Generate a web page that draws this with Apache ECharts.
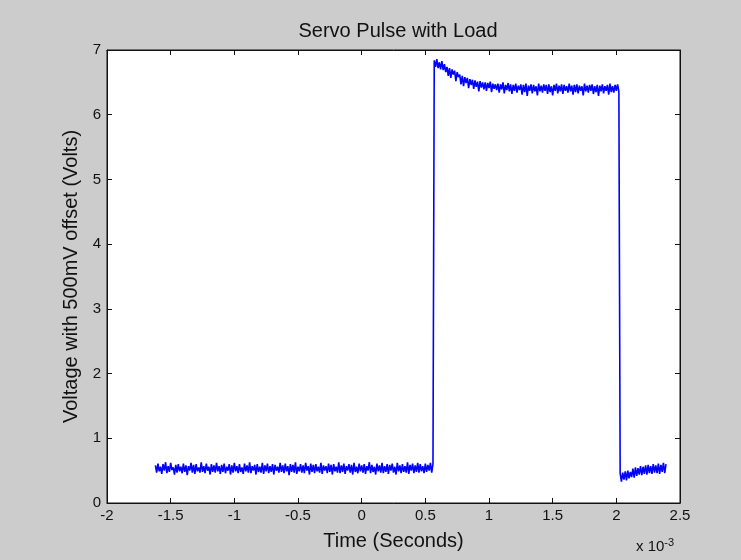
<!DOCTYPE html>
<html>
<head>
<meta charset="utf-8">
<script src="https://cdn.jsdelivr.net/npm/echarts@6/dist/echarts.min.js"></script>
<style>
  html, body { margin: 0; padding: 0; background: #cccccc; }
  #chart { width: 741px; height: 560px; }
</style>
</head>
<body>
<div id="chart"></div>
<script>
// scope samples, time in units of 1e-3 s
const sampleStart = -1.62;
const sampleStep = 0.01;

// low level before the pulse (-1.62 .. 0.56)
const lowBefore = [
  0.58,0.47,0.61,0.49,0.56,0.45,0.60,0.50,0.63,0.46,
  0.57,0.48,0.62,0.51,0.55,0.44,0.59,0.47,0.60,0.49,
  0.56,0.46,0.61,0.48,0.58,0.43,0.57,0.50,0.62,0.47,
  0.59,0.45,0.60,0.49,0.55,0.47,0.63,0.48,0.57,0.46,
  0.61,0.50,0.56,0.44,0.60,0.48,0.58,0.47,0.62,0.49,
  0.57,0.45,0.59,0.48,0.61,0.46,0.56,0.50,0.60,0.44,
  0.58,0.47,0.62,0.49,0.57,0.46,0.60,0.48,0.55,0.45,
  0.61,0.49,0.58,0.47,0.63,0.46,0.57,0.50,0.59,0.44,
  0.60,0.48,0.56,0.47,0.62,0.45,0.58,0.49,0.61,0.46,
  0.57,0.48,0.60,0.44,0.59,0.50,0.56,0.47,0.62,0.48,
  0.58,0.46,0.61,0.49,0.57,0.43,0.60,0.48,0.59,0.47,
  0.63,0.45,0.56,0.49,0.60,0.47,0.58,0.46,0.62,0.50,
  0.57,0.44,0.61,0.48,0.59,0.46,0.60,0.49,0.56,0.47,
  0.62,0.45,0.58,0.50,0.57,0.46,0.61,0.48,0.59,0.44,
  0.60,0.49,0.56,0.47,0.63,0.46,0.58,0.48,0.61,0.45,
  0.57,0.50,0.60,0.47,0.59,0.44,0.62,0.48,0.56,0.46,
  0.61,0.49,0.58,0.47,0.60,0.45,0.57,0.50,0.63,0.46,
  0.59,0.48,0.56,0.44,0.61,0.49,0.58,0.47,0.62,0.46,
  0.57,0.48,0.60,0.45,0.59,0.50,0.61,0.47,0.56,0.44,
  0.62,0.49,0.58,0.46,0.60,0.48,0.57,0.47,0.63,0.45,
  0.59,0.50,0.61,0.46,0.58,0.48,0.62,0.47,0.60,0.49,
  0.57,0.46,0.61,0.48,0.59,0.50,0.62,0.47,0.60
];

// pulse high level (0.57 .. 2.02)
const highLevel = [
  6.84,6.74,6.86,6.72,6.81,6.70,6.83,6.69,6.78,6.66,
  6.74,6.60,6.72,6.57,6.70,6.62,6.68,6.52,6.66,6.58,
  6.62,6.47,6.60,6.44,6.58,6.49,6.57,6.41,6.55,6.46,
  6.54,6.40,6.53,6.43,6.51,6.36,6.52,6.42,6.50,6.39,
  6.50,6.37,6.49,6.41,6.51,6.35,6.48,6.40,6.47,6.38,
  6.48,6.34,6.47,6.39,6.50,6.33,6.46,6.38,6.49,6.36,
  6.47,6.32,6.46,6.37,6.48,6.34,6.45,6.38,6.47,6.31,
  6.46,6.35,6.48,6.29,6.45,6.37,6.47,6.33,6.46,6.36,
  6.44,6.30,6.48,6.36,6.45,6.34,6.47,6.37,6.46,6.32,
  6.47,6.35,6.44,6.30,6.46,6.37,6.48,6.33,6.45,6.36,
  6.47,6.32,6.46,6.37,6.44,6.34,6.48,6.36,6.45,6.31,
  6.46,6.35,6.47,6.33,6.45,6.37,6.44,6.30,6.48,6.36,
  6.45,6.34,6.46,6.37,6.47,6.32,6.44,6.35,6.46,6.29,
  6.45,6.36,6.47,6.33,6.44,6.37,6.46,6.31,6.48,6.35,
  6.44,6.34,6.46,6.37,6.47,6.36
];

// low level after the pulse (2.03 .. 2.39)
const lowAfter = [
  0.46,0.33,0.47,0.36,0.49,0.35,0.50,0.38,0.48,0.40,
  0.53,0.39,0.55,0.42,0.54,0.44,0.57,0.43,0.56,0.45,
  0.58,0.44,0.59,0.46,0.57,0.45,0.60,0.47,0.58,0.46,
  0.61,0.45,0.59,0.48,0.62,0.46,0.60
];

const voltage = lowBefore.concat(highLevel, lowAfter);
const points = voltage.map((v, i) => [+(sampleStart + i * sampleStep).toFixed(2), v]);

const labelFont = { color: '#111', fontFamily: 'Liberation Sans', fontSize: 15 };
const tickStyle = { show: true, inside: true, length: 5, lineStyle: { color: '#111' } };
const lineStyle = { show: true, onZero: false, lineStyle: { color: '#111', width: 1 } };

const chart = echarts.init(document.getElementById('chart'));
chart.setOption({
  backgroundColor: '#cccccc',
  animation: false,
  title: {
    text: 'Servo Pulse with Load',
    left: 393, top: 16, textAlign: 'center',
    textStyle: { color: '#111', fontFamily: 'Liberation Sans', fontSize: 20, fontWeight: 'normal' }
  },
  grid: {
    left: 107, right: 61, top: 50, bottom: 57,
    show: true, backgroundColor: '#ffffff', borderColor: '#111', borderWidth: 1
  },
  xAxis: [
    {
      type: 'value', min: -2, max: 2.5, interval: 0.5, position: 'bottom',
      name: 'Time (Seconds)', nameLocation: 'middle', nameGap: 28,
      nameTextStyle: { color: '#111', fontFamily: 'Liberation Sans', fontSize: 20 },
      axisLine: lineStyle, axisTick: tickStyle, splitLine: { show: false },
      axisLabel: Object.assign({ margin: 5 }, labelFont)
    },
    {
      type: 'value', min: -2, max: 2.5, interval: 0.5, position: 'top',
      axisLine: lineStyle, axisTick: tickStyle, splitLine: { show: false },
      axisLabel: { show: false }
    }
  ],
  yAxis: [
    {
      type: 'value', min: 0, max: 7, interval: 1, position: 'left',
      name: 'Voltage with 500mV offset (Volts)', nameLocation: 'middle', nameGap: 26,
      nameTextStyle: { color: '#111', fontFamily: 'Liberation Sans', fontSize: 20 },
      axisLine: lineStyle, axisTick: tickStyle, splitLine: { show: false },
      axisLabel: Object.assign({ margin: 6 }, labelFont)
    },
    {
      type: 'value', min: 0, max: 7, interval: 1, position: 'right',
      axisLine: lineStyle, axisTick: tickStyle, splitLine: { show: false },
      axisLabel: { show: false }
    }
  ],
  graphic: [
    {
      type: 'text', left: 636, top: 537,
      style: {
        text: 'x 10{sup|-3}',
        fill: '#111', font: '15px "Liberation Sans"',
        rich: { sup: { fontSize: 11, fontFamily: 'Liberation Sans', fill: '#111', verticalAlign: 'top', padding: [0, 0, 8, 0] } }
      }
    }
  ],
  series: [
    {
      type: 'line', data: points, xAxisIndex: 0, yAxisIndex: 0,
      showSymbol: false, sampling: false,
      lineStyle: { color: '#0000ff', width: 1.6 }
    }
  ]
});
</script>
</body>
</html>
